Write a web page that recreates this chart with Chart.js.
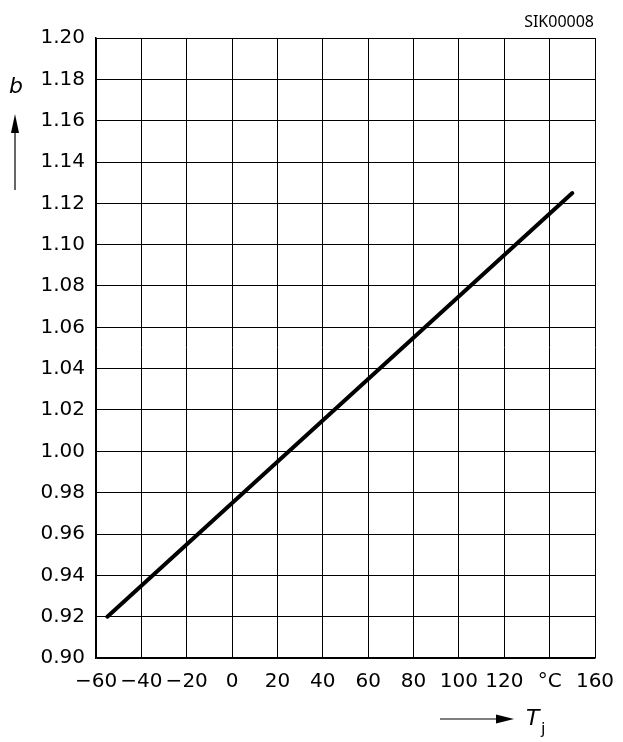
<!DOCTYPE html>
<html>
<head>
<meta charset="utf-8">
<script src="https://cdn.jsdelivr.net/npm/chart.js@4.4.0/dist/chart.umd.min.js"></script>
<style>
  html, body { margin: 0; padding: 0; background: #fff; }
  #wrap { width: 623px; height: 742px; }
</style>
</head>
<body>
<div id="wrap"><canvas id="bChart"></canvas></div>
<script>
// data
const tempC = [-55, 150];
const bValues = [0.92, 1.125];
const xTicks = [-60, -40, -20, 0, 20, 40, 60, 80, 100, 120, 140, 160];
const xTickLabels = ['\u221260', '\u221240', '\u221220', '0', '20', '40', '60', '80', '100', '120', '\u00B0C', '160'];
const yTicks = [0.90, 0.92, 0.94, 0.96, 0.98, 1.00, 1.02, 1.04, 1.06, 1.08, 1.10, 1.12, 1.14, 1.16, 1.18, 1.20];

const FONT = 'DejaVu Sans';

// extra labels: code, b with arrow, Tj with arrow
const extras = {
  id: 'extras',
  afterDraw(chart) {
    const ctx = chart.ctx;
    ctx.save();
    ctx.fillStyle = '#000';
    ctx.strokeStyle = '#000';

    ctx.font = '16px "Noto Sans"';
    ctx.textAlign = 'right';
    ctx.textBaseline = 'middle';
    ctx.fillText('SIK00008', 594, 22);

    // b label + up arrow
    ctx.font = 'italic 22px ' + FONT;
    ctx.textAlign = 'center';
    ctx.fillText('b', 16, 87);
    ctx.lineWidth = 1.2;
    ctx.beginPath();
    ctx.moveTo(15, 190);
    ctx.lineTo(15, 128);
    ctx.stroke();
    ctx.beginPath();
    ctx.moveTo(15, 114);
    ctx.lineTo(11, 133);
    ctx.lineTo(19, 133);
    ctx.closePath();
    ctx.fill();

    // Tj label + right arrow
    ctx.beginPath();
    ctx.moveTo(440, 719);
    ctx.lineTo(500, 719);
    ctx.stroke();
    ctx.beginPath();
    ctx.moveTo(514, 719);
    ctx.lineTo(496, 714.5);
    ctx.lineTo(496, 723.5);
    ctx.closePath();
    ctx.fill();
    ctx.font = 'italic 22px ' + FONT;
    ctx.textAlign = 'left';
    ctx.fillText('T', 526, 719);
    ctx.font = '16px ' + FONT;
    ctx.fillText('j', 541, 730);
    ctx.restore();
  }
};

new Chart(document.getElementById('bChart'), {
  type: 'scatter',
  data: {
    datasets: [{
      data: tempC.map((t, i) => ({ x: t, y: bValues[i] })),
      showLine: true,
      borderColor: '#000',
      borderWidth: 4,
      pointRadius: 0,
      borderCapStyle: 'round'
    }]
  },
  options: {
    responsive: true,
    maintainAspectRatio: false,
    animation: false,
    layout: { padding: { left: 0, top: 38, right: 28, bottom: 0 } },
    plugins: { legend: { display: false }, tooltip: { enabled: false } },
    scales: {
      x: {
        type: 'linear',
        min: -60,
        max: 160,
        afterBuildTicks(scale) { scale.ticks = xTicks.map(v => ({ value: v })); },
        afterFit(scale) {
          scale.height = 84;
          scale.paddingLeft = 0;
          scale.paddingRight = 0;
        },
        grid: { color: '#000', lineWidth: 1, drawTicks: false },
        border: { color: '#000', width: 1.5 },
        ticks: {
          padding: 12,
          maxRotation: 0,
          autoSkip: false,
          color: '#000',
          font: { family: FONT, size: 20 },
          callback: (v) => xTickLabels[xTicks.indexOf(v)]
        }
      },
      y: {
        min: 0.90,
        max: 1.20,
        afterBuildTicks(scale) { scale.ticks = yTicks.map(v => ({ value: v })); },
        afterFit(scale) { scale.width = 96; },
        grid: { color: '#000', lineWidth: 1, drawTicks: false },
        border: { color: '#000', width: 1.5 },
        ticks: {
          padding: 11,
          autoSkip: false,
          color: '#000',
          font: { family: FONT, size: 20 },
          callback: (v) => v.toFixed(2)
        }
      }
    }
  },
  plugins: [extras]
});
</script>
</body>
</html>
